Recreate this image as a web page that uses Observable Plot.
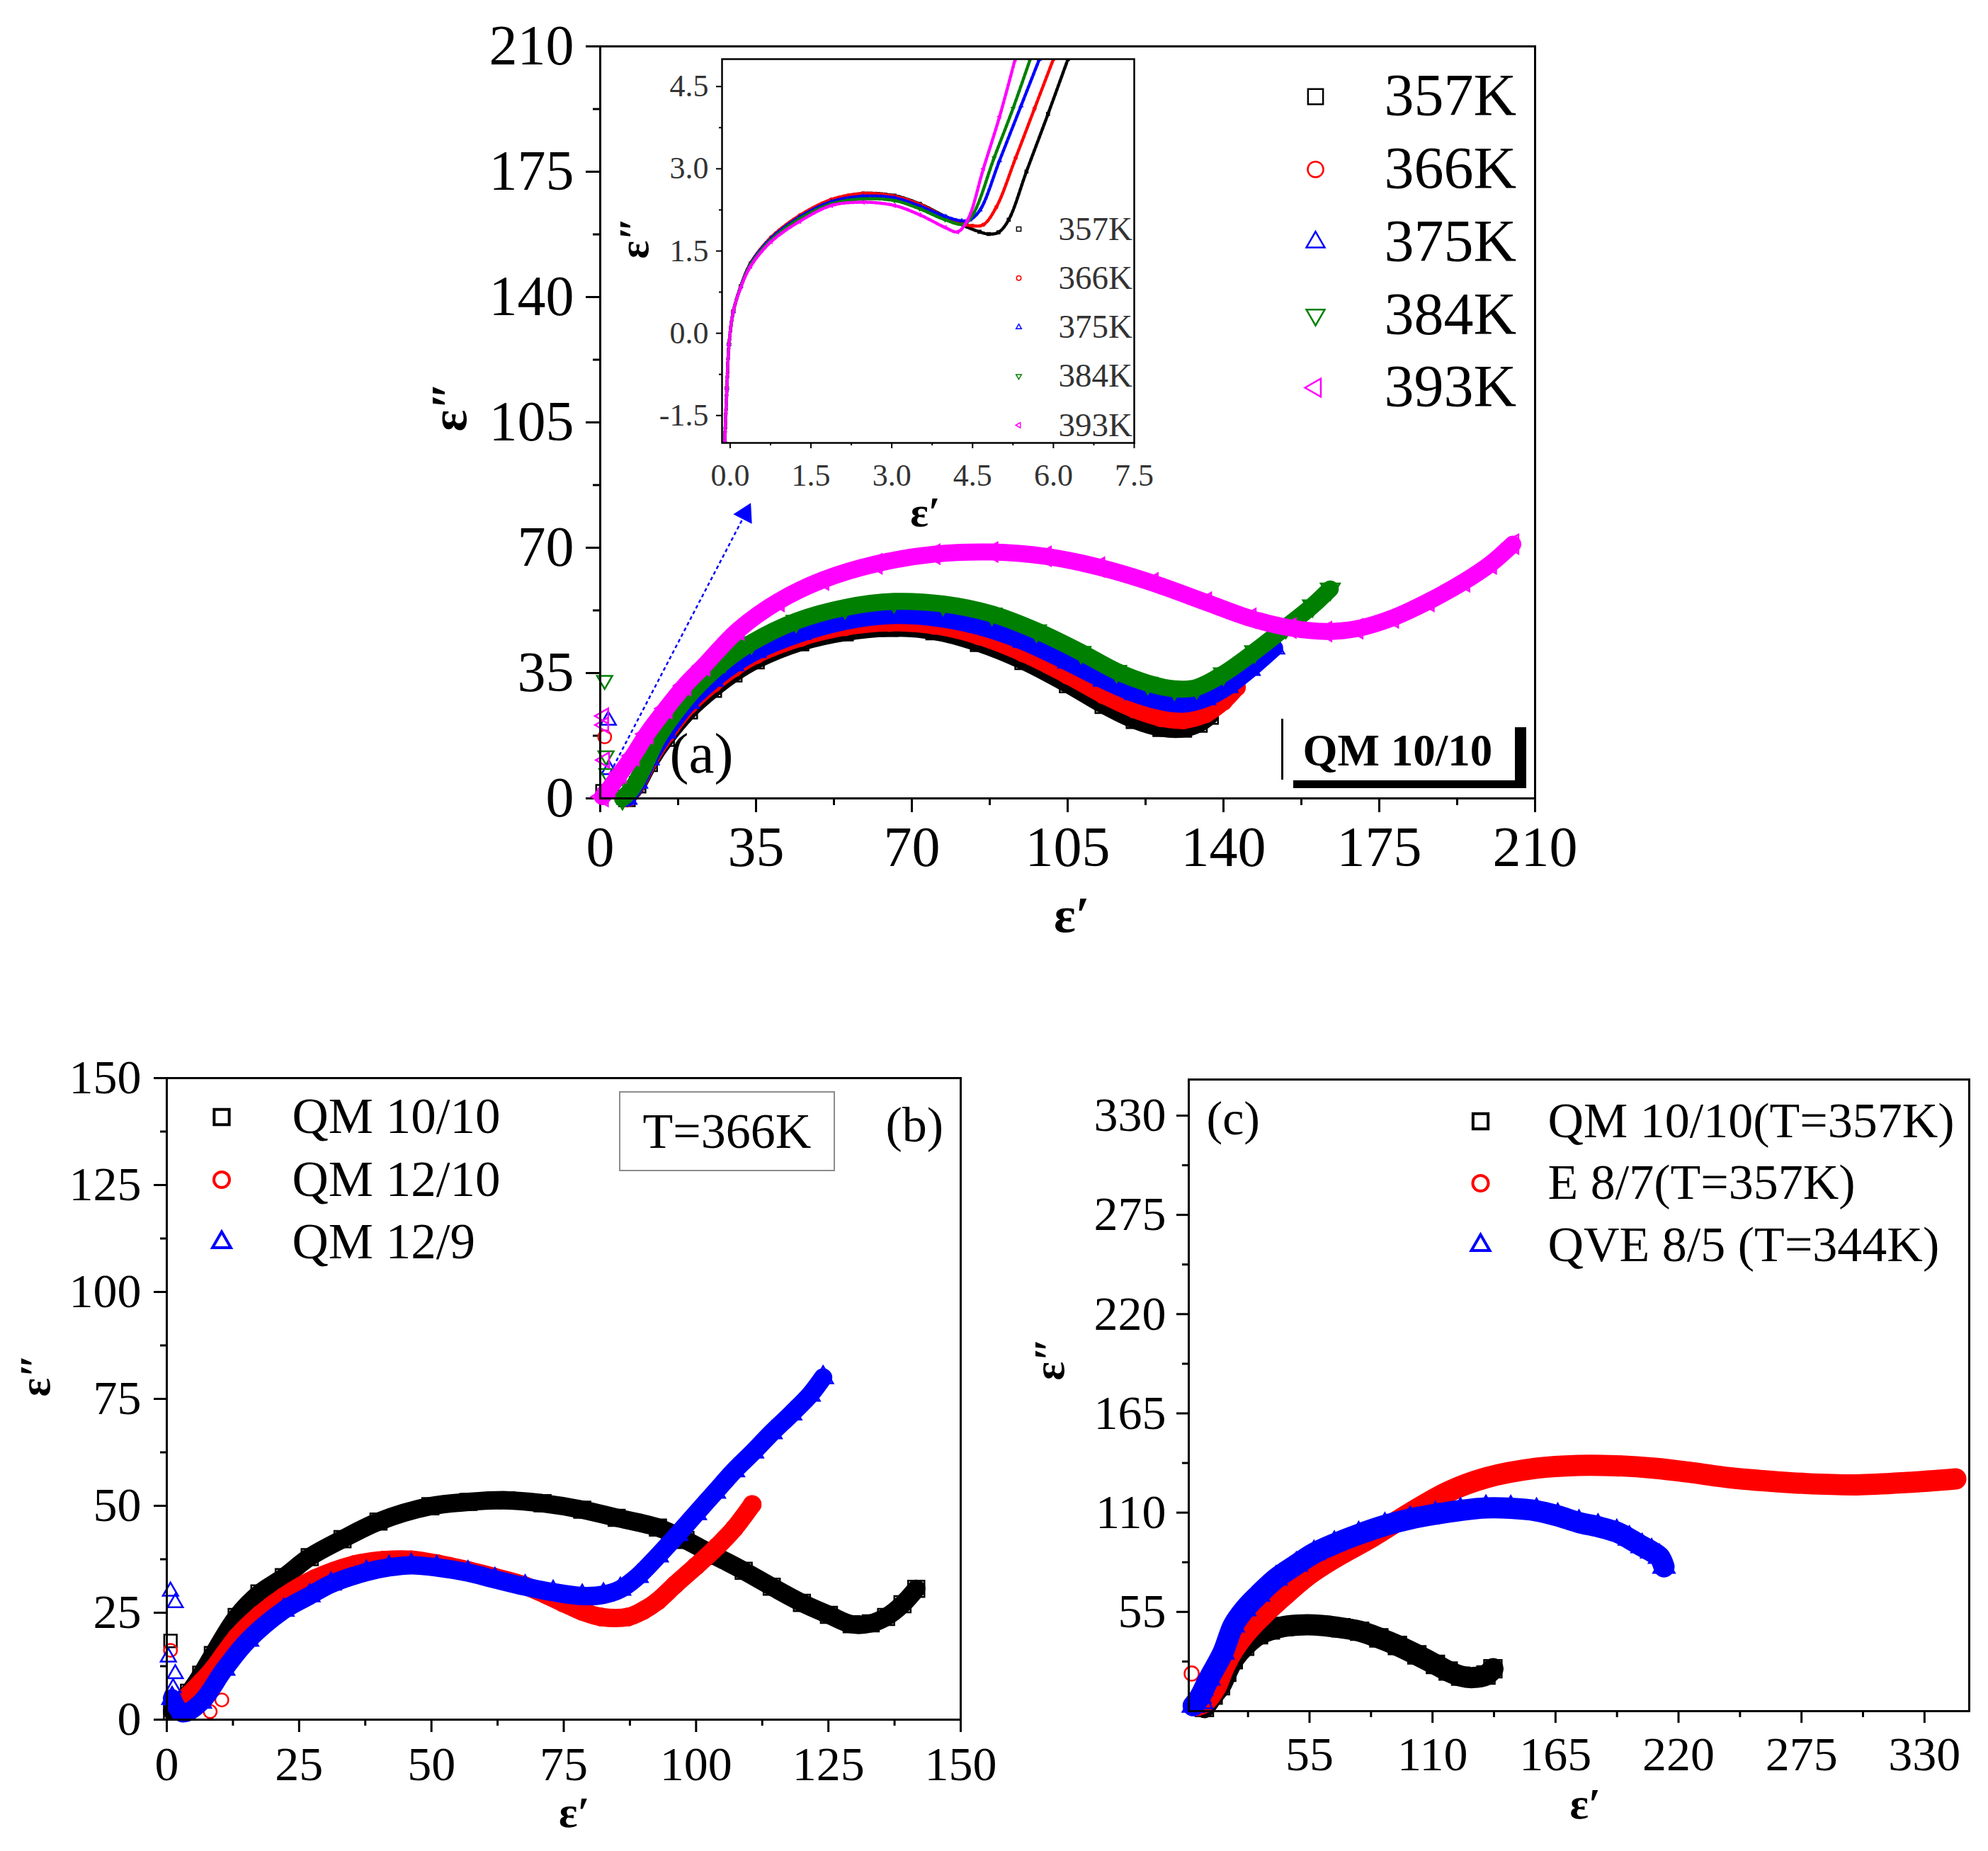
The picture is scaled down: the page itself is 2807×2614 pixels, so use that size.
<!DOCTYPE html>
<html><head><meta charset="utf-8">
<script src="https://cdn.jsdelivr.net/npm/d3@7"></script>
<script src="https://cdn.jsdelivr.net/npm/@observablehq/plot@0.6"></script>
<style>
html,body{margin:0;padding:0;background:#fff;}
#root{position:relative;width:2807px;height:2614px;background:#fff;overflow:hidden;font-family:"Liberation Serif","Times New Roman",serif;}
.abs{position:absolute;}
.abs svg{max-width:none !important;display:block;}
</style></head><body><div id="root"></div>
<script>
const FONT = "Liberation Serif";
const BLACK = "#000000", RED = "#ff0000", BLUE = "#0000ff", GREEN = "#008000", MAGENTA = "#ff00ff";

// ---------- Panel (a): QM 10/10 at five temperatures ----------
const namesA = ["357K", "366K", "375K", "384K", "393K"];
const a357 = [[6,0],[8.4,3.8],[11,9.8],[14.8,16.8],[20,24.5],[25.4,30.5],[30,34.8],[35,38.5],[45,43.5],[55,46.3],[65,47.5],[75,46.6],[85,43.3],[95,38.3],[105,31.8],[113,26],[120,21.8],[126,19.6],[131,19.4],[134.5,20.8],[137,23]];
const a366 = [[6,0],[8.4,4.2],[11,10.5],[14.8,17.8],[20,26],[25.4,32],[30,36.3],[35,40],[45,44.8],[55,47.8],[65,49],[75,48.2],[85,45.3],[95,40.5],[105,34.3],[113,28.8],[120,24.8],[126,22.4],[131,21.8],[136,23.5],[140,27],[143,31]];
const a375 = [[6,0],[8.4,4.5],[11,11],[14.8,18.5],[20,26.8],[25.4,33],[30,37.3],[35,41],[45,46],[55,49.4],[65,51],[75,50.4],[85,48],[95,43.8],[105,38],[113,33],[120,29.2],[126,27],[131,26.3],[136,27.8],[141,31.2],[146,36],[151.5,42]];
const a384 = [[5,0],[7,2.5],[9.5,8],[13,17],[17.5,25],[22,31.5],[28,38.3],[34,43.5],[44,49.5],[55,53.3],[66,55],[77,54.3],[88,51.5],[98,46.8],[108,40.8],[116,35.5],[123,32.2],[129,30.6],[134,31],[140,34.8],[147,41],[154,47.8],[160,53.8],[164,58.5]];
const a393 = [[0.5,0.5],[2,2.7],[4.5,7],[7.4,11.9],[10.5,18],[14.8,25.1],[19,31.5],[23.3,37],[31,47],[40,55],[50,61],[62,65.5],[75,68.2],[88,68.8],[100,67.6],[112,64.6],[124,60.2],[136,54.8],[146,50.3],[155,47.6],[163,46.6],[170,47.4],[178,50.4],[186,55],[194,60.5],[200,65.5],[205,71]];
// isolated points near the origin
const strayA357 = [[0.5,2]];
const strayA366 = [[1,17.2]];
const strayA375 = [[1.8,21.8],[2,8]];
const strayA384 = [[1,33],[1.3,11.9],[1.5,7]];
const strayA393 = [[0.8,23],[0.8,20.5],[1,10.7]];
const arrowA = [{x1: 2.3, y1: 7.3, x2: 32.6, y2: 79.5}];
const ticksA = [0, 35, 70, 105, 140, 175, 210];
const minorA = [17.5, 52.5, 87.5, 122.5, 157.5, 192.5];

// ---------- Inset of (a) ----------
const i357 = [[-0.1,-2],[-0.06,-1],[-0.02,-0.2],[0.06,0.4],[0.2,0.86],[0.38,1.27],[0.76,1.73],[1.29,2.13],[1.88,2.42],[2.47,2.55],[3.05,2.51],[3.52,2.36],[3.99,2.13],[4.34,1.96],[4.63,1.85],[4.8,1.81],[4.98,1.84],[5.17,2.07],[5.5,2.95],[5.9,4.0],[6.27,5.0]];
const i366 = [[-0.1,-2],[-0.06,-1],[-0.02,-0.2],[0.06,0.4],[0.2,0.86],[0.38,1.28],[0.76,1.75],[1.29,2.15],[1.88,2.44],[2.47,2.55],[3.05,2.5],[3.52,2.35],[3.99,2.12],[4.3,2.0],[4.5,1.96],[4.7,1.98],[4.94,2.3],[5.3,3.2],[5.65,4.1],[6.0,5.0]];
const i375 = [[-0.1,-2],[-0.06,-1],[-0.02,-0.2],[0.06,0.4],[0.2,0.86],[0.38,1.27],[0.76,1.73],[1.29,2.12],[1.88,2.4],[2.47,2.5],[3.05,2.47],[3.52,2.32],[3.99,2.13],[4.3,2.05],[4.45,2.07],[4.64,2.25],[5.0,3.15],[5.4,4.15],[5.74,5.0]];
const i384 = [[-0.1,-2],[-0.06,-1],[-0.02,-0.2],[0.06,0.4],[0.2,0.85],[0.38,1.25],[0.76,1.7],[1.29,2.09],[1.88,2.36],[2.47,2.45],[3.05,2.42],[3.52,2.27],[3.99,2.07],[4.34,1.99],[4.52,2.19],[4.9,3.2],[5.25,4.1],[5.57,5.0]];
const i393 = [[-0.1,-2],[-0.06,-1],[-0.02,-0.2],[0.06,0.4],[0.2,0.84],[0.38,1.22],[0.76,1.67],[1.29,2.04],[1.88,2.33],[2.47,2.39],[3.05,2.33],[3.52,2.16],[3.99,1.93],[4.22,1.85],[4.41,2.07],[4.7,3.0],[5.0,3.95],[5.29,5.0]];
const ticksI = [0, 1.5, 3, 4.5, 6, 7.5];
const minorIx = [0.75, 2.25, 3.75, 5.25, 6.75];
const ticksIy = [-1.5, 0, 1.5, 3, 4.5];
const minorIy = [-0.75, 0.75, 2.25, 3.75];

// ---------- Panel (b): T = 366K ----------
const namesB = ["QM 10/10", "QM 12/10", "QM 12/9"];
const b1010 = [[1,2],[4.2,6.3],[6.5,10.5],[8.7,15.1],[13.2,24],[17.5,29.5],[22.1,33.3],[27,38],[33.2,42.2],[40,46.3],[49.8,49.9],[57,50.9],[64.2,51.3],[71,50.6],[78.5,49.1],[85,47.2],[92.8,44.9],[98,42],[103.6,38.3],[109,34.8],[114.3,31.1],[120,27.3],[125.1,24.5],[129.4,22.3],[133,22.5],[135.9,24],[139,27],[141.6,30.6]];
const b1210 = [[4.2,5.9],[6.5,8.8],[8.7,11.8],[13.2,19.3],[17.5,24.5],[22.1,28.8],[28,33],[35.5,36.3],[41,37.3],[46.2,37.4],[51,36.5],[56.9,34.9],[62,33.3],[67.7,31.3],[74.9,27.3],[78.5,25.3],[82.1,24],[87.1,24],[90,25.5],[92.8,27.8],[96,31.5],[100,35.9],[104,40.5],[107.2,44.7],[110.6,50.3]];
const b129 = [[1,5],[3,1.5],[6.5,4.1],[10.9,11.8],[15.4,18.6],[22.1,25.6],[27,29],[31,31.7],[37.7,34.5],[42,35.6],[46.2,36.1],[51,35.6],[56.9,34.4],[62,32.8],[67.7,31.1],[73,29.8],[78.5,28.9],[82.5,29.2],[85.7,30.5],[89,33.5],[92.8,38.3],[96.5,43.3],[100,48.2],[103.6,53.2],[107.2,58.2],[110.8,62.6],[114.3,67.1],[118,71.5],[121.5,75.9],[124,80]];
const strayB1010 = [[0.7,18.4]];
const strayB1210 = [[0.7,16.2],[10.4,4.6],[8.2,1.9]];
const strayB129 = [[0.7,30],[1.6,27.3],[0.3,14.6],[1.6,10.7],[1.2,7.4],[2.5,1.9]];
const ticksB = [0, 25, 50, 75, 100, 125, 150];
const minorB = [12.5, 37.5, 62.5, 87.5, 112.5, 137.5];
const tLabel = "T=366K";

// ---------- Panel (c) ----------
const namesC = ["QM 10/10(T=357K)", "E 8/7(T=357K)", "QVE 8/5 (T=344K)"];
const c1010 = [[8,2],[11.9,8.9],[15.2,14.1],[18,21.5],[20.9,28.5],[26,36],[32.2,42.3],[37.5,45],[43.5,46.9],[52,47.8],[60.4,47.5],[69,46.2],[77.4,44.3],[86,40.6],[94.3,36.4],[103,31.2],[111.3,25.9],[117,22.2],[122.6,19.4],[128,18.6],[133.9,20],[137,23.5]];
const c87 = [[4.5,3],[8,5],[12.9,12.8],[16.5,23.5],[20.9,33.8],[26,42.5],[32.2,50.8],[43.5,63.9],[54.8,75.7],[66.1,84.8],[83,96.6],[100,109.7],[116.9,121.5],[133.9,129.3],[156.5,134.6],[175,136.2],[192,136],[209.4,134.6],[226,132.2],[243.3,129.3],[260,127.5],[277.2,126.1],[299.8,125.4],[322.4,126.7],[344,128.7]];
const c85 = [[3,3],[6,8],[10,18],[16.3,32.5],[20.9,47.5],[26,56.5],[32.2,64.5],[40,73.5],[49.1,81.2],[57,87.5],[66.1,92.7],[77,98],[88.7,102.9],[100,106.5],[111.3,109.1],[122.5,111.2],[133.9,112.6],[145,112.4],[156.5,111],[166,108.2],[175.5,104.5],[184,102.2],[192.4,99.2],[198,95.6],[203.7,91.4],[208,88.5],[211.5,85.5],[213.5,80]];
const strayC87 = [[2.3,20.8]];
const strayC85 = [[7.8,4.3],[7.8,11.5]];
const ticksC = [55, 110, 165, 220, 275, 330];
const minorC = [27.5, 82.5, 137.5, 192.5, 247.5, 302.5];

// ---------- helpers ----------
const root = document.getElementById("root");
function place(node, left, top) {
  const d = document.createElement("div");
  d.className = "abs";
  d.style.left = left + "px";
  d.style.top = top + "px";
  d.appendChild(node);
  root.appendChild(d);
  return d;
}
const X = d => d[0], Y = d => d[1];
const symScale = s => s === "triangle" ? 0.8 : s === "circle" ? 0.92 : 1;
function axes(A) {
  return [
    Plot.axisX(A.xMajor, {anchor: "bottom", tickSize: A.ts, tickPadding: A.tpx, tickFormat: A.fmt, fontSize: A.fs, strokeWidth: A.sw, fill: A.tc, label: null}),
    Plot.axisX(A.xMinor, {anchor: "bottom", tickSize: A.tm, tickFormat: () => "", strokeWidth: A.sw, label: null}),
    Plot.axisY(A.yMajor, {anchor: "left", tickSize: A.ts, tickPadding: A.tpy, tickFormat: A.fmt, fontSize: A.fs, strokeWidth: A.sw, fill: A.tc, label: null}),
    Plot.axisY(A.yMinor, {anchor: "left", tickSize: A.tm, tickFormat: () => "", strokeWidth: A.sw, label: null})
  ];
}
function seriesMarks(list, st) {
  const m = [];
  for (const s of list) {
    const k = symScale(s.symbol);
    m.push(Plot.line(s.data, {x: X, y: Y, stroke: s.color, strokeWidth: st.lw, curve: "catmull-rom", strokeLinecap: "round", strokeLinejoin: "round", strokeDasharray: st.dash, clip: st.clip}));
    m.push(Plot.dot(s.data, {x: X, y: Y, symbol: s.symbol, rotate: s.rotate, r: st.r * k, stroke: s.color, strokeWidth: st.sw, fill: "none", clip: st.clip}));
    if (s.stray) m.push(Plot.dot(s.stray, {x: X, y: Y, symbol: s.symbol, rotate: s.rotate, r: st.sr * k, stroke: s.color, strokeWidth: st.ssw, fill: "none"}));
  }
  return m;
}
function legendMarks(list, L) {
  const m = [];
  list.forEach((s, i) => {
    const dy = L.dy0 + i * L.step;
    m.push(Plot.dot([s], {frameAnchor: "top-left", dx: L.sx, dy, symbol: s.symbol, rotate: s.rotate, r: L.r * symScale(s.symbol), stroke: s.color, strokeWidth: L.sw, fill: "none"}));
    m.push(Plot.text([s], {frameAnchor: "top-left", dx: L.tx, dy, text: d => d.name, textAnchor: "start", lineAnchor: "middle", fontSize: L.fs, fill: L.fill}));
  });
  return m;
}
function titles(T) {
  return [
    Plot.text([T.x], {frameAnchor: "bottom", dx: T.xdx, dy: T.xdy, text: d => d, fontSize: T.fs, fontWeight: "bold", lineAnchor: "middle", fill: "black"}),
    Plot.text([T.y], {frameAnchor: "left", dx: T.ydx, dy: T.ydy, text: d => d, fontSize: T.fs, fontWeight: "bold", lineAnchor: "middle", rotate: -90, fill: "black"})
  ];
}
const baseStyle = {fontFamily: FONT, background: "transparent", color: "black", maxWidth: "none", overflow: "visible"};
const intFmt = d => String(d);
const fix1 = d => d.toFixed(1);

const colors5 = [BLACK, RED, BLUE, GREEN, MAGENTA];
const symbols5 = ["square", "circle", "triangle", "triangle", "triangle"];
const rotates5 = [0, 0, 0, 180, -90];

// ---------- build panel (a) ----------
const dataA = [a357, a366, a375, a384, a393];
const strayA = [strayA357, strayA366, strayA375, strayA384, strayA393];
const seriesA = namesA.map((n, i) => ({name: n, color: colors5[i], symbol: symbols5[i], rotate: rotates5[i], data: dataA[i], stray: strayA[i]}));

const plotA = Plot.plot({
  width: 1700, height: 1350,
  marginLeft: 267, marginRight: 113, marginTop: 65, marginBottom: 223,
  x: {domain: [0, 210]}, y: {domain: [0, 210]},
  style: baseStyle,
  marks: [
    ...axes({xMajor: ticksA, xMinor: minorA, yMajor: ticksA, yMinor: minorA, ts: 20, tm: 10, tpx: 19, tpy: 17, fmt: intFmt, fs: 80, sw: 3, tc: "black"}),
    Plot.link(arrowA, {x1: "x1", y1: "y1", x2: "x2", y2: "y2", stroke: BLUE, strokeWidth: 2.5, strokeDasharray: "5,4"}),
    Plot.dot(arrowA, {x: "x2", y: "y2", symbol: "triangle", rotate: 27, r: 10, fill: BLUE, stroke: BLUE}),
    ...seriesMarks(seriesA, {lw: 24, r: 12.5, sw: 2.5, sr: 10, ssw: 2.5, clip: false}),
    Plot.frame({stroke: "black", strokeWidth: 3}),
    ...legendMarks(seriesA, {sx: 1010, tx: 1107, dy0: 71, step: 102.75, r: 12, sw: 2.5, fs: 84, fill: "black"}),
    Plot.text(["(a)"], {frameAnchor: "top-left", dx: 98, dy: 1025, text: d => d, textAnchor: "start", lineAnchor: "bottom", fontSize: 81, fill: "black"}),
    Plot.text(["QM 10/10"], {frameAnchor: "top-left", dx: 992, dy: 1015, text: d => d, textAnchor: "start", lineAnchor: "bottom", fontSize: 63, fontWeight: "bold", fill: "black"}),
    ...titles({x: "ε′", y: "ε″", fs: 72, xdx: 6, xdy: 165, ydx: -213, ydy: 13})
  ]
});
place(plotA, 580, 0);

// QM 10/10 label frame (shadowed box)
function bar(l, t, w, h) {
  const d = document.createElement("div");
  d.className = "abs";
  Object.assign(d.style, {left: l + "px", top: t + "px", width: w + "px", height: h + "px", background: "#000"});
  root.appendChild(d);
}
bar(1809, 1015, 3, 86);
bar(1826, 1102, 329, 11);
bar(2139, 1027, 16, 86);

// ---------- inset ----------
const dataI = [i357, i366, i375, i384, i393];
const seriesI = namesA.map((n, i) => ({name: n, color: colors5[i], symbol: symbols5[i], rotate: rotates5[i], data: dataI[i]}));
const plotI = Plot.plot({
  width: 800, height: 720,
  marginLeft: 179, marginRight: 39, marginTop: 23, marginBottom: 155,
  x: {domain: [-0.15, 7.5]}, y: {domain: [-2, 5]},
  style: baseStyle,
  marks: [
    Plot.frame({fill: "white", stroke: "none"}),
    ...axes({xMajor: ticksI, xMinor: minorIx, yMajor: ticksIy, yMinor: minorIy, ts: 8, tm: 4, tpx: 21, tpy: 11, fmt: fix1, fs: 44, sw: 2, tc: "#333"}),
    ...seriesMarks(seriesI, {lw: 4.5, dash: "4,2.5", r: 2.5, sw: 1.2, clip: true}),
    Plot.frame({stroke: "black", strokeWidth: 2.5}),
    ...legendMarks(seriesI, {sx: 419, tx: 475, dy0: 240, step: 69.25, r: 3.5, sw: 1.5, fs: 47, fill: "#333"}),
    ...titles({x: "ε′", y: "ε″", fs: 60, xdx: -4, xdy: 98, ydx: -124, ydy: 11})
  ]
});
place(plotI, 840, 60);

// ---------- panel (b) ----------
const dataB = [b1010, b1210, b129];
const strayB = [strayB1010, strayB1210, strayB129];
const seriesB = namesB.map((n, i) => ({name: n, color: colors5[i], symbol: symbols5[i], rotate: 0, data: dataB[i], stray: strayB[i]}));
const plotB = Plot.plot({
  width: 1420, height: 1184,
  marginLeft: 235, marginRight: 64, marginTop: 92, marginBottom: 186,
  x: {domain: [0, 150]}, y: {domain: [0, 150]},
  style: baseStyle,
  marks: [
    ...axes({xMajor: ticksB, xMinor: minorB, yMajor: ticksB, yMinor: minorB, ts: 18, tm: 9, tpx: 19, tpy: 18, fmt: intFmt, fs: 68, sw: 3, tc: "black"}),
    ...seriesMarks(seriesB, {lw: 26, r: 13, sw: 2.5, sr: 10, ssw: 2.5, clip: false}),
    Plot.frame({stroke: "black", strokeWidth: 3}),
    ...legendMarks(seriesB, {sx: 77.5, tx: 177, dy0: 55, step: 88.5, r: 12, sw: 4, fs: 71, fill: "black"}),
    Plot.text(["(b)"], {frameAnchor: "top-left", dx: 1015, dy: 89, text: d => d, textAnchor: "start", lineAnchor: "bottom", fontSize: 70, fill: "black"}),
    ...titles({x: "ε′", y: "ε″", fs: 62, xdx: 15, xdy: 132, ydx: -185, ydy: -3})
  ]
});
place(plotB, 0, 1430);

const tbox = document.createElement("div");
tbox.className = "abs";
Object.assign(tbox.style, {left: "874px", top: "1541px", width: "305px", height: "113px", border: "2px solid #8c8c8c", boxSizing: "border-box", display: "flex", alignItems: "center", justifyContent: "center", fontSize: "70px", fontFamily: FONT, color: "#000", lineHeight: "1"});
tbox.textContent = tLabel;
root.appendChild(tbox);

// ---------- panel (c) ----------
const dataC = [c1010, c87, c85];
const strayC = [[], strayC87, strayC85];
const seriesC = namesC.map((n, i) => ({name: n, color: colors5[i], symbol: symbols5[i], rotate: 0, data: dataC[i], stray: strayC[i]}));
const plotC = Plot.plot({
  width: 1387, height: 1184,
  marginLeft: 258, marginRight: 27, marginTop: 94, marginBottom: 198,
  x: {domain: [1, 350]}, y: {domain: [0, 350]},
  style: baseStyle,
  marks: [
    ...axes({xMajor: ticksC, xMinor: minorC, yMajor: ticksC, yMinor: minorC, ts: 17, tm: 9, tpx: 18, tpy: 15, fmt: intFmt, fs: 68, sw: 3, tc: "black"}),
    ...seriesMarks(seriesC, {lw: 30, r: 14, sw: 2.5, sr: 11, ssw: 2.5, clip: false}),
    Plot.frame({stroke: "black", strokeWidth: 3}),
    ...legendMarks(seriesC, {sx: 412, tx: 507, dy0: 59, step: 87.5, r: 12, sw: 4, fs: 70, fill: "black"}),
    Plot.text(["(c)"], {frameAnchor: "top-left", dx: 25, dy: 77, text: d => d, textAnchor: "start", lineAnchor: "bottom", fontSize: 68, fill: "black"}),
    ...titles({x: "ε′", y: "ε″", fs: 62, xdx: 9, xdy: 132, ydx: -196, ydy: -21})
  ]
});
place(plotC, 1420, 1430);
</script></body></html>
